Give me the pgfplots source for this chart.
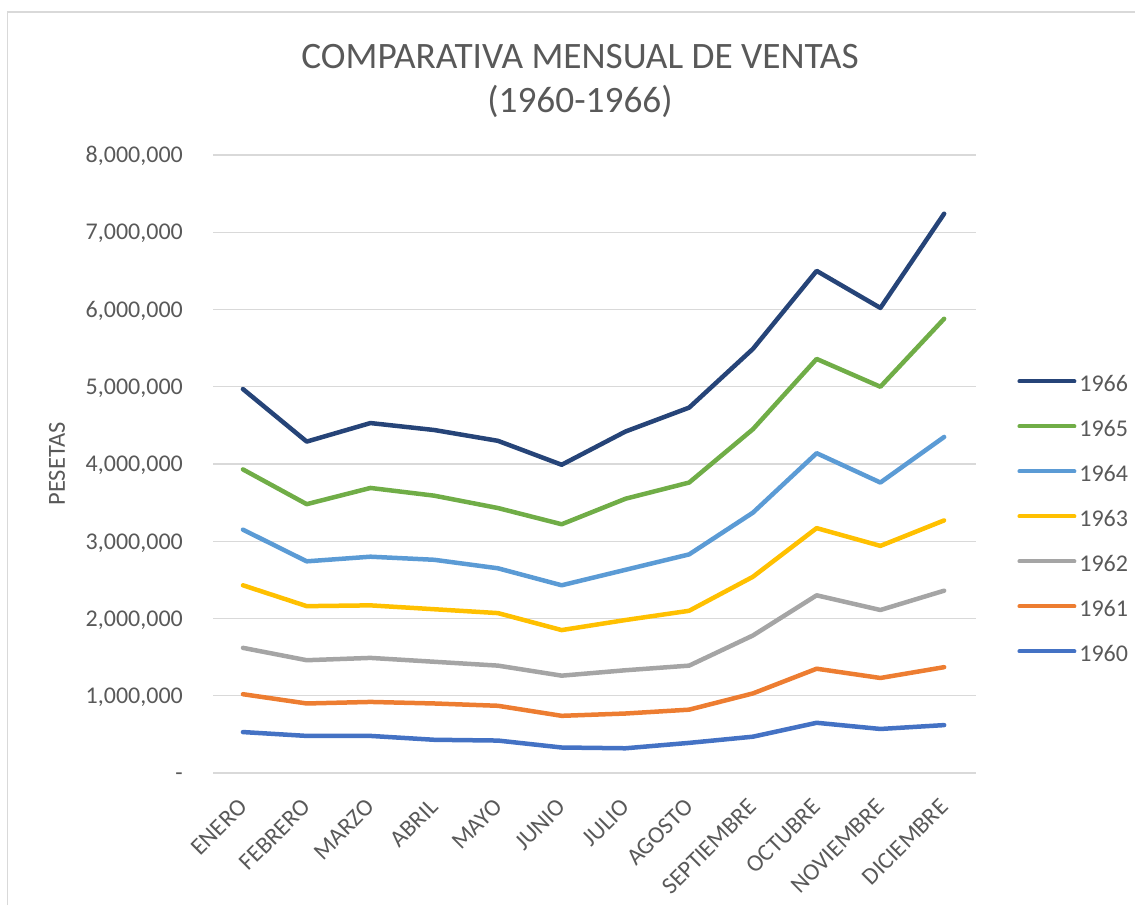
\documentclass[border=0pt]{standalone}
\usepackage{pgfplots}
\pgfplotsset{compat=1.18}
\usepackage{pgfplotstable}
\usepackage{fontspec}
\setmainfont{Carlito}
\definecolor{txt}{HTML}{595959}
\definecolor{gridc}{HTML}{D9D9D9}
\definecolor{c60}{HTML}{4472C4}
\definecolor{c61}{HTML}{ED7D31}
\definecolor{c62}{HTML}{A5A5A5}
\definecolor{c63}{HTML}{FFC000}
\definecolor{c64}{HTML}{5B9BD5}
\definecolor{c65}{HTML}{70AD47}
\definecolor{c66}{HTML}{264478}

\pgfplotstableread{
m y1960 y1961 y1962 y1963 y1964 y1965 y1966
0  530000 1020000 1620000 2430000 3150000 3930000 4970000
1  480000  900000 1460000 2160000 2740000 3480000 4290000
2  480000  920000 1490000 2170000 2800000 3690000 4530000
3  430000  900000 1440000 2120000 2760000 3590000 4440000
4  420000  870000 1390000 2070000 2650000 3430000 4300000
5  330000  740000 1260000 1850000 2430000 3220000 3990000
6  320000  770000 1330000 1980000 2630000 3550000 4420000
7  390000  820000 1390000 2100000 2830000 3760000 4730000
8  470000 1030000 1780000 2540000 3370000 4450000 5490000
9  650000 1350000 2300000 3170000 4140000 5360000 6500000
10 570000 1230000 2110000 2940000 3760000 5000000 6020000
11 620000 1370000 2360000 3270000 4350000 5880000 7240000
}\datatable

\begin{document}
\begin{tikzpicture}
\path[use as bounding box] (0pt,0pt) rectangle (1135pt,905pt);
\draw[color=gridc, line width=1.3pt] (7.5pt,0pt) -- (7.5pt,893pt) -- (1135pt,893pt);
\node[text=txt, font=\fontsize{37.3}{44}\selectfont, align=center] at (580pt,824pt) {COMPARATIVA MENSUAL DE VENTAS\\(1960-1966)};
\begin{axis}[
  at={(213pt,132pt)}, anchor=south west,
  scale only axis, width=763pt, height=618pt,
  xmin=-0.47, xmax=11.5, ymin=0, ymax=8000000,
  axis line style={draw=none},
  tick style={draw=none},
  ymajorgrids, grid style={color=gridc, line width=1.3pt},
  xtick={0,...,11},
  xticklabels={ENERO,FEBRERO,MARZO,ABRIL,MAYO,JUNIO,JULIO,AGOSTO,SEPTIEMBRE,OCTUBRE,NOVIEMBRE,DICIEMBRE},
  ytick={0,1000000,2000000,3000000,4000000,5000000,6000000,7000000,8000000},
  yticklabels={{-\hspace{10pt}},{1,000,000},{2,000,000},{3,000,000},{4,000,000},{5,000,000},{6,000,000},{7,000,000},{8,000,000}},
  scaled y ticks=false,
  ticklabel style={text=txt, font=\fontsize{24}{28}\selectfont},
  yticklabel style={anchor=east, inner sep=0pt, text height=15.5pt, text depth=0pt, xshift=-30pt},
  xticklabel style={inner sep=0pt, text height=15.5pt, text depth=0pt, yshift=-30pt, rotate=45, anchor=east},
  ylabel={PESETAS},
  every axis y label/.style={at={(axis description cs:-0.2045,0.5)}, rotate=90, anchor=center,
    text=txt, font=\fontsize{24.5}{28}\selectfont},
  legend style={draw=none, fill=none, at={(axis description cs:1.054,0.407)}, anchor=west,
    font=\fontsize{24}{28}\selectfont, text=txt, inner sep=0pt,
    nodes={inner sep=0pt, text height=16pt, text depth=5pt}, row sep=24pt, column sep=3pt},
  legend cell align=left,
  reverse legend,
  legend image code/.code={\draw[#1, line width=4pt, line cap=round] (0pt,5pt) -- (55pt,5pt);},
  every axis plot/.append style={line width=4.5pt, line join=round, line cap=round, mark=none},
]
\addplot[c60] table[x=m,y=y1960]{\datatable};
\addlegendentry{1960}
\addplot[c61] table[x=m,y=y1961]{\datatable};
\addlegendentry{1961}
\addplot[c62] table[x=m,y=y1962]{\datatable};
\addlegendentry{1962}
\addplot[c63] table[x=m,y=y1963]{\datatable};
\addlegendentry{1963}
\addplot[c64] table[x=m,y=y1964]{\datatable};
\addlegendentry{1964}
\addplot[c65] table[x=m,y=y1965]{\datatable};
\addlegendentry{1965}
\addplot[c66] table[x=m,y=y1966]{\datatable};
\addlegendentry{1966}
\end{axis}
\end{tikzpicture}
\end{document}
